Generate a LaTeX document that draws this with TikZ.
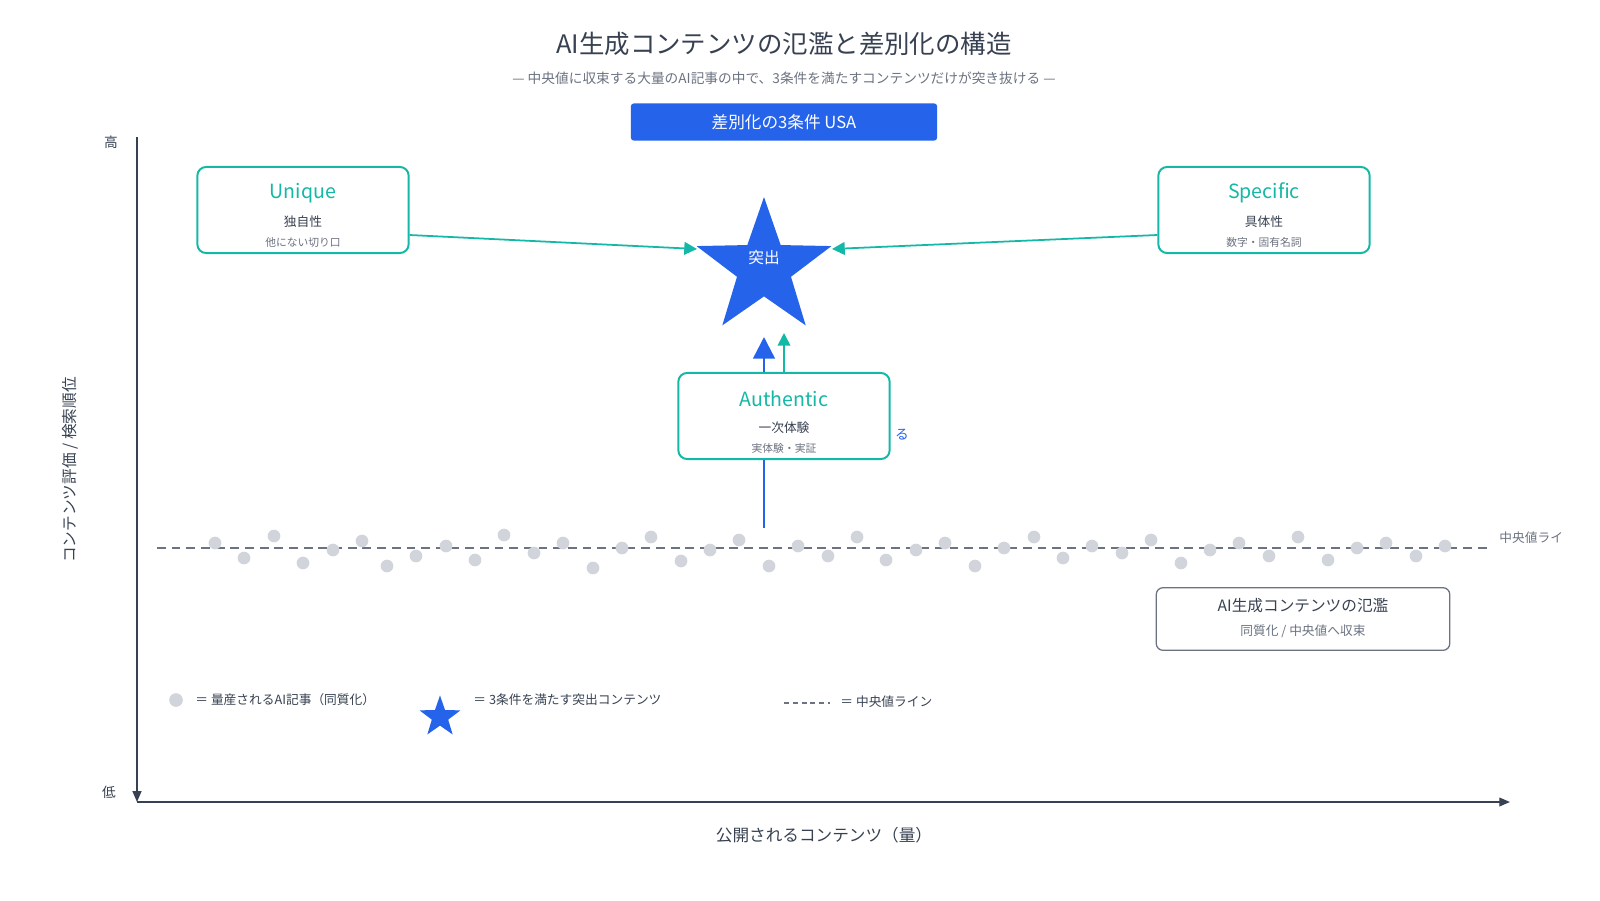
\documentclass[tikz,border=0pt]{standalone}
\usepackage{fontspec}
\setmainfont{Noto Sans CJK JP}
\usetikzlibrary{shapes.geometric,arrows.meta}
\definecolor{ink}{HTML}{374151}
\definecolor{sub}{HTML}{6B7280}
\definecolor{usablue}{HTML}{2563EB}
\definecolor{teal}{HTML}{14B8A6}
\definecolor{dotgray}{HTML}{D1D5DB}
\tikzset{
  cond/.style={draw=teal, line width=2pt, rounded corners=9pt, fill=white, minimum width=216pt, minimum height=88pt},
  condname/.style={text=teal, font=\fontsize{20}{24}\selectfont},
  condjp/.style={text=ink, font=\fontsize{13}{16}\selectfont},
  condnote/.style={text=sub, font=\fontsize{11}{14}\selectfont},
  dot/.style={circle, fill=dotgray, inner sep=0pt, minimum size=13pt},
  tealarrow/.style={draw=teal, line width=1.8pt, -{Triangle[length=13pt,width=13pt]}},
}
\begin{document}
\begin{tikzpicture}[x=1.022pt,y=-1.022pt]
  \useasboundingbox (0,0) rectangle (1600,900);
  % title
  \node (title) at (784,44) {\fontsize{26}{30}\selectfont\color{ink} AI生成コンテンツの氾濫と差別化の構造};
  \node (subtitle) at (784,78) {\fontsize{14}{16}\selectfont\color{sub} — 中央値に収束する大量のAI記事の中で、3条件を満たすコンテンツだけが突き抜ける —};
  \node[fill=usablue, rounded corners=3pt, minimum width=313pt, minimum height=38pt, text=white, font=\fontsize{17}{20}\selectfont] (usa) at (784,122) {差別化の3条件 USA};
  % axes
  \coordinate (o) at (137,802);
  \coordinate (ytop) at (137,137);
  \coordinate (xend) at (1510,802);
  \draw[ink, line width=1.5pt, -{Triangle[length=11pt,width=9pt]}] (ytop) -- (o);
  \draw[ink, line width=1.5pt, -{Triangle[length=11pt,width=9pt]}] (o) -- (xend);
  \node[ink, font=\fontsize{14}{16}\selectfont] (high) at (111,142) {高};
  \node[ink, font=\fontsize{14}{16}\selectfont] (low) at (109,792) {低};
  \node[ink, rotate=90, font=\fontsize{16}{18}\selectfont] (ylab) at (70,470) {コンテンツ評価 / 検索順位};
  \node[ink, font=\fontsize{17}{20}\selectfont] (xlab) at (824,835) {公開されるコンテンツ（量）};
  % median line and dots
  \coordinate (m1) at (157,548);
  \coordinate (m2) at (1490,548);
  \draw[sub, line width=1.5pt, dash pattern=on 9pt off 6pt] (m1) -- (m2);
  \node[anchor=west, sub, font=\fontsize{13}{15}\selectfont] (mlab) at (1496,538) {中央値ライ};
  \foreach \x/\y in {215/543,244/558,274/536,303/563,333/550,362/541,387/566,416/556,446/546,475/560,504/535,534/553,563/543,593/568,622/548,651/537,681/561,710/550,739/540,769/566,798/546,828/556,857/537,886/560,916/550,945/543,975/566,1004/548,1034/537,1063/558,1092/546,1122/553,1151/540,1181/563,1210/550,1239/543,1269/556,1298/537,1328/560,1357/548,1386/543,1416/556,1445/546}
    \node[dot] at (\x,\y) {};
  % flood box
  \node[draw=sub, line width=1.3pt, rounded corners=7pt, minimum width=300pt, minimum height=64pt] (flood) at (1303,619) {};
  \node[ink, font=\fontsize{16}{18}\selectfont] (floodname) at (1303,606) {AI生成コンテンツの氾濫};
  \node[sub, font=\fontsize{13}{15}\selectfont] (floodnote) at (1303,631) {同質化 / 中央値へ収束};
  % star
  \node[star, star points=5, star point ratio=2.5, fill=usablue, minimum size=145pt, inner sep=0pt] (star) at (764,268) {};
  \node[text=white, font=\fontsize{16}{18}\selectfont] (startxt) at (764,258) {突出};
  % conditions
  \node[cond] (unique) at (303,210) {};
  \node[condname] at (303,193) {Unique};
  \node[condjp] at (303,222) {独自性};
  \node[condnote] at (303,242) {他にない切り口};
  \node[cond] (specific) at (1264,210) {};
  \node[condname] at (1264,193) {Specific};
  \node[condjp] at (1264,222) {具体性};
  \node[condnote] at (1264,242) {数字・固有名詞};
  \node[cond] (authentic) at (784,416) {};
  \node[condname] at (784,399) {Authentic};
  \node[condjp] at (784,428) {一次体験};
  \node[condnote] at (784,448) {実体験・実証};
  \node[usablue, font=\fontsize{14}{16}\selectfont] (ru) at (902,435) {る};
  % arrows
  \coordinate (ua) at (697,249);
  \coordinate (sa) at (832,249);
  \coordinate (bstart) at (764,528);
  \coordinate (bend) at (764,337);
  \coordinate (tend) at (784,333);
  \draw[tealarrow] (unique.east |- 0,235) -- (ua);
  \draw[tealarrow] (specific.west |- 0,235) -- (sa);
  \draw[usablue, line width=2.5pt] (bstart) -- (authentic.south -| bstart);
  \draw[usablue, line width=2.5pt, -{Triangle[length=22pt,width=22pt]}] (authentic.north -| bstart) -- (bend);
  \draw[tealarrow] (authentic.north -| tend) -- (tend);
  % legend
  \node[dot, minimum size=14pt] (ldot) at (176,700) {};
  \node[anchor=west, ink, font=\fontsize{13}{15}\selectfont] (ldottxt) at (192,700) {＝ 量産されるAI記事（同質化）};
  \node[star, star points=5, star point ratio=2.5, fill=usablue, minimum size=44pt, inner sep=0pt] (lstar) at (440,717) {};
  \node[anchor=west, ink, font=\fontsize{13}{15}\selectfont] (lstartxt) at (470,700) {＝ 3条件を満たす突出コンテンツ};
  \coordinate (ld1) at (784,703);
  \coordinate (ld2) at (830,703);
  \draw[sub, line width=1.3pt, dash pattern=on 5pt off 4pt] (ld1) -- (ld2);
  \node[anchor=west, ink, font=\fontsize{13}{15}\selectfont] (ldashtxt) at (837,702) {＝ 中央値ライン};
\end{tikzpicture}
\end{document}
